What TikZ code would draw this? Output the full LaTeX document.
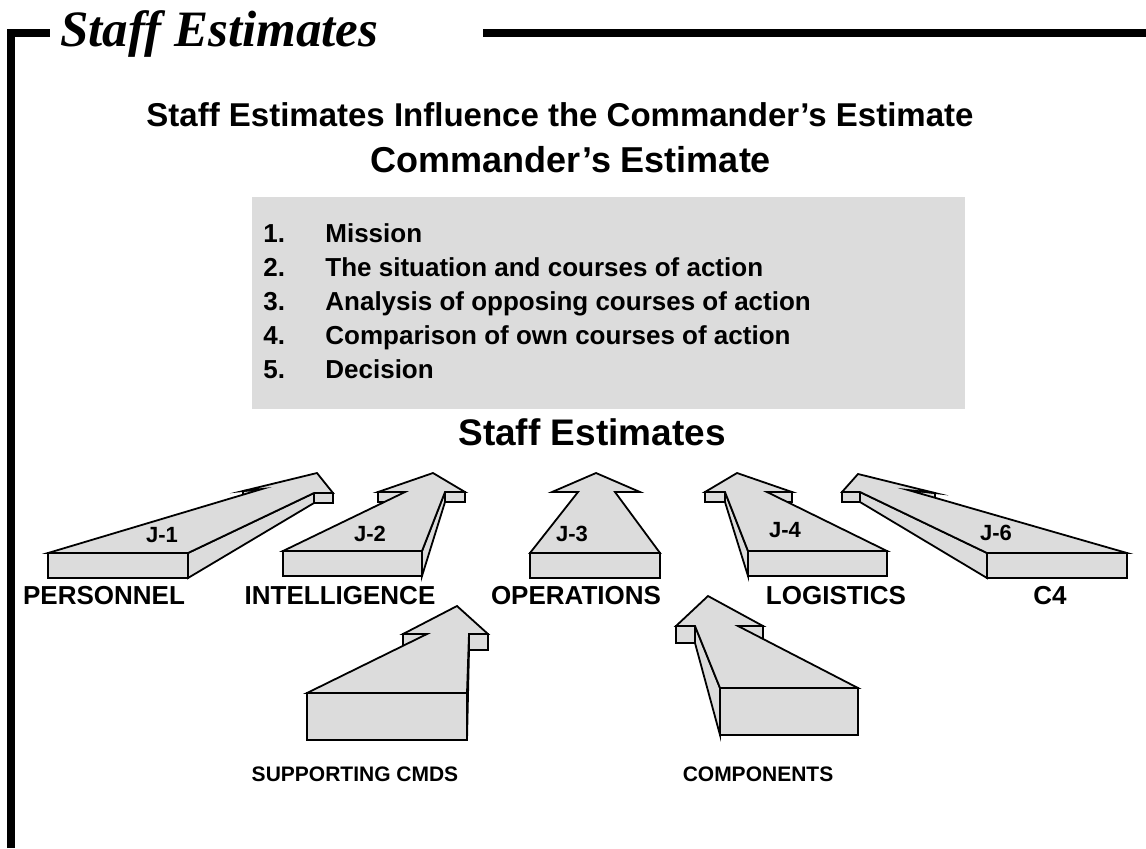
\documentclass[tikz,border=0pt]{standalone}
\usepackage{fontspec}
\setmainfont{Liberation Serif}
\setsansfont{Liberation Sans}
\definecolor{boxgray}{HTML}{DCDCDC}
\newcommand\blockarrow[1]{%
  \foreach \xa/\ya/\ta [remember=\xa as \xp (initially 0), remember=\ya as \yp (initially 0), remember=\ta as \tp (initially 0), count=\ci] in {#1}{%
    \coordinate (p\ci) at (\xa,\ya);
    \ifnum\ci>1
      \ifdim\xa pt<\xp pt
        \filldraw[arrowface] (\xp,\yp) -- (\xa,\ya) -- (\xa,\ya+\ta) -- (\xp,\yp+\tp) -- cycle;
      \fi
    \fi
  }%
  \filldraw[arrowface] (p1) -- (p2) -- (p3) -- (p4) -- (p5) -- (p6) -- (p7) -- cycle;
}
\begin{document}
\begin{tikzpicture}[x=0.5pt,y=-0.5pt,
  arrowface/.style={fill=boxgray,draw=black,line width=0.9pt,line join=miter,miter limit=30},
  frame/.style={line width=3.6pt},
  listtxt/.style={anchor=base west,inner sep=0,font=\sffamily\bfseries\fontsize{13}{15}\selectfont},
  lbl/.style={inner sep=0,font=\sffamily\bfseries\fontsize{13}{15}\selectfont},
  lblsmall/.style={inner sep=0,font=\sffamily\bfseries\fontsize{10.5}{12}\selectfont},
  jlbl/.style={inner sep=0,font=\sffamily\bfseries\fontsize{11}{13}\selectfont}]
\useasboundingbox (0,0) rectangle (1146,848);
% frame
\draw[frame] (11,848) -- (11,33) -- (50,33);
\draw[frame] (483,33) -- (1146,33);
\node[anchor=base west,inner sep=0,font=\bfseries\itshape\fontsize{25.5}{30}\selectfont] (title) at (60,46) {Staff Estimates};
% headings
\node[inner sep=0,font=\sffamily\bfseries\fontsize{16.5}{19}\selectfont] (sub) at (560,115) {Staff Estimates Influence the Commander’s Estimate};
\node[inner sep=0,font=\sffamily\bfseries\fontsize{18}{21}\selectfont] (cmd) at (571,160) {Commander’s Estimate};
% box
\fill[boxgray] (252,197) rectangle (965,409);
\foreach \n/\t [count=\i] in {1./Mission,2./The situation and courses of action,3./Analysis of opposing courses of action,4./Comparison of own courses of action,5./Decision}{
  \node[listtxt] (num\i) at (263,{208+34*\i}) {\n};
  \node[listtxt] (item\i) at (325,{208+34*\i}) {\t};
}
\node[inner sep=0,font=\sffamily\bfseries\fontsize{18.5}{21}\selectfont] (staff) at (592,432) {Staff Estimates};
% arrows
\blockarrow{48/553/25, 262/489/9, 243/491/9, 317/473/10, 333/493/10, 314/493/10, 188/553/25, 48/553/25}
\blockarrow{283/551/25, 405/492/10, 378/492/10, 433/473/10, 465/492/10, 445/492/10, 422/551/25, 283/551/25}
\blockarrow{530/553/25, 578/492/0, 552/492/0, 596/473/0, 640/492/0, 615/492/0, 660/553/25, 530/553/25}
\blockarrow{748/551/25, 725/492/10, 705/492/10, 737/473/10, 792/492/10, 767/492/10, 887/551/25, 748/551/25}
\blockarrow{987/553/25, 860/492/10, 842/492/10, 858/474/10, 935/493/9, 908/490/9, 1127/553/25, 987/553/25}
\blockarrow{307/693/47, 427/634/16, 403/634/16, 457/606/16, 488/634/16, 469/634/16, 467/693/47, 307/693/47}
\blockarrow{720/688/47, 695/626/17, 676/626/17, 708/596/17, 763/626/17, 738/626/17, 858/688/47, 720/688/47}
% arrow labels
\node[jlbl] (j1) at (162,535) {J-1};
\node[jlbl] (j2) at (370,534) {J-2};
\node[jlbl] (j3) at (572,534) {J-3};
\node[jlbl] (j4) at (785,530) {J-4};
\node[jlbl] (j6) at (996,533) {J-6};
\node[lbl] (personnel) at (104,596) {PERSONNEL};
\node[lbl] (intel) at (340,596) {INTELLIGENCE};
\node[lbl] (ops) at (576,596) {OPERATIONS};
\node[lbl] (log) at (836,596) {LOGISTICS};
\node[lbl] (c4) at (1050,596) {C4};
\node[lblsmall] (supp) at (355,774) {SUPPORTING CMDS};
\node[lblsmall] (comp) at (758,774) {COMPONENTS};
\end{tikzpicture}
\end{document}
